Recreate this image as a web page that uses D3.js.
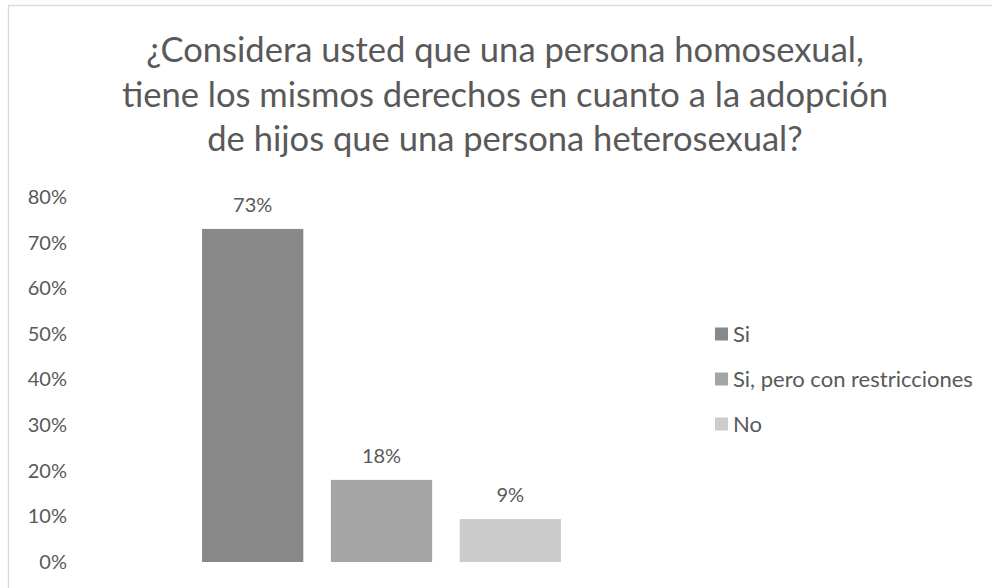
<!DOCTYPE html>
<html>
<head>
<meta charset="utf-8">
<script src="https://cdn.jsdelivr.net/npm/d3@7"></script>
<style>
  html, body { margin: 0; padding: 0; background: #fff; }
  svg text { font-family: Lato, "Open Sans", sans-serif; fill: #595959; }
</style>
</head>
<body>
<svg id="drawing_region"></svg>
<script>
// datos del grafico
const titleLines = [
    '¿Considera usted que una persona homosexual,',
    'tiene los mismos derechos en cuanto a la adopción',
    'de hijos que una persona heterosexual?'
];
const series = ['Si', 'Si, pero con restricciones', 'No'];
const values = [0.73, 0.18, 0.094];
const yTicks = [0, 0.1, 0.2, 0.3, 0.4, 0.5, 0.6, 0.7, 0.8];
const barColors = ['#888888', '#a5a5a5', '#cbcbcb'];

const width = 992, height = 588;
const pct = d3.format('.0%');

const svg = d3.select('#drawing_region')
    .attr('width', width)
    .attr('height', height);

// ajusta el tamaño de letra para que el texto ocupe un ancho dado
function fitWidth(sel, target, base) {
    const len = sel.node().getComputedTextLength();
    return base * target / len;
}

// borde del area del grafico (se corta a la derecha y abajo)
svg.append('rect')
    .attr('x', 8.5).attr('y', 5.5)
    .attr('width', 1000).attr('height', 600)
    .attr('fill', '#fff')
    .attr('stroke', '#d9d9d9')
    .attr('stroke-width', 1.3);

// titulo
const title = svg.append('text')
    .attr('text-anchor', 'middle')
    .style('font-size', '31px');

title.selectAll('tspan')
    .data(titleLines)
    .join('tspan')
    .attr('x', 505)
    .attr('y', (d, i) => 62 + i * 44.5)
    .text(d => d);

title.style('font-size', fitWidth(title.select('tspan'), 718, 31) + 'px');

const yscale = d3.scaleLinear()
    .domain([0, d3.max(yTicks)])
    .range([562, 197]);

const catscale = d3.scaleBand()
    .domain(['cat'])
    .range([75, 688])
    .paddingOuter(0.354);

const xscale = d3.scaleBand()
    .domain(series)
    .range([catscale('cat'), catscale('cat') + catscale.bandwidth()])
    .paddingInner(0.214);

const color = d3.scaleOrdinal().domain(series).range(barColors);

// eje y
const yaxis = d3.axisLeft(yscale)
    .tickValues(yTicks)
    .tickFormat(pct)
    .tickSize(0)
    .tickPadding(8);

svg.append('g')
    .attr('transform', 'translate(75, 0)')
    .call(yaxis)
    .call(g => g.select('.domain').remove())
    .selectAll('text')
    .style('font-size', '20px')
    .style('font-family', 'Lato, "Open Sans", sans-serif')
    .attr('fill', '#595959');

// barras
const rows = series.map((s, i) => ({ s: s, v: values[i] }));

svg.append('g').selectAll('rect')
    .data(rows)
    .join('rect')
    .attr('x', d => xscale(d.s))
    .attr('y', d => yscale(d.v))
    .attr('width', xscale.bandwidth())
    .attr('height', d => yscale(0) - yscale(d.v))
    .attr('fill', d => color(d.s));

// etiquetas de datos
svg.append('g').selectAll('text')
    .data(rows)
    .join('text')
    .attr('x', d => xscale(d.s) + xscale.bandwidth() / 2)
    .attr('y', d => yscale(d.v) - 17)
    .attr('text-anchor', 'middle')
    .style('font-size', '20px')
    .text(d => pct(Math.round(d.v * 100) / 100));

// leyenda
const legend = svg.append('g').selectAll('g')
    .data(series)
    .join('g')
    .attr('transform', (d, i) => `translate(715, ${334 + i * 45})`);

legend.append('rect')
    .attr('x', 0).attr('y', -6.5)
    .attr('width', 13).attr('height', 13)
    .attr('fill', d => color(d));

const legendText = legend.append('text')
    .attr('x', 18)
    .attr('dy', '0.36em')
    .style('font-size', '20px')
    .text(d => d);

const legendSize = fitWidth(legendText.filter((d, i) => i === 1), 240, 20);
legendText.style('font-size', legendSize + 'px');
</script>
</body>
</html>
